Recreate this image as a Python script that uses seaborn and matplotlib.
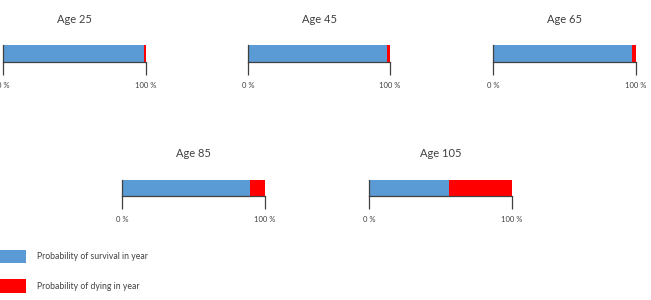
import numpy as np
import pandas as pd
import matplotlib
matplotlib.use("Agg")
import matplotlib.pyplot as plt
from matplotlib.patches import Patch
import seaborn as sns

# values (percent)
ages = [25, 45, 65, 85, 105]
survival = [98.5, 98.0, 97.0, 89.5, 56.0]
dying = [1.5, 2.0, 3.0, 10.5, 44.0]
tick_labels = ["0 %", "100 %"]
legend_labels = ["Probability of survival in year", "Probability of dying in year"]

blue = "#5B9BD5"
red = "#FF0000"
grey = "#404040"

sns.set_style("white")
plt.rcParams['font.family'] = ['Lato', 'DejaVu Sans']

W, H = 651, 300
fig = plt.figure(figsize=(W / 100, H / 100), dpi=100)

# panel boxes in pixels: (left, right, top, bottom)
boxes = [(3, 146, 45, 61.5), (248, 390, 45, 61.5), (493, 636, 45, 61.5),
         (122, 265, 179.5, 196), (369, 512, 179.5, 196)]

for age, surv, die, (x0, x1, y0, y1) in zip(ages, survival, dying, boxes):
    ax = fig.add_axes([x0 / W, 1 - y1 / H, (x1 - x0) / W, (y1 - y0) / H])
    df = pd.DataFrame({'age': [f"Age {age}"], 'total': [surv + die], 'surv': [surv]})
    sns.barplot(data=df, x='total', y='age', orient='h', color=red, width=1,
                saturation=1, ax=ax, linewidth=0)
    sns.barplot(data=df, x='surv', y='age', orient='h', color=blue, width=1,
                saturation=1, ax=ax, linewidth=0)
    ax.set_xlim(0, 100)
    ax.set_ylim(0.5, -0.5)
    ax.set_xticks([0, 100])
    ax.set_xticklabels(tick_labels, fontsize=5.5, color=grey)
    ax.tick_params(axis='x', direction='out', length=9.5, width=0.9,
                   color=grey, pad=5, bottom=True)
    ax.set_yticks([])
    ax.set_xlabel(None)
    ax.set_ylabel(None)
    for side in ['top', 'right']:
        ax.spines[side].set_visible(False)
    for side in ['bottom', 'left']:
        ax.spines[side].set_color(grey)
        ax.spines[side].set_linewidth(0.9)
    ax.set_title(f"Age {age}", fontsize=8, color=grey, pad=16)

handles = [Patch(facecolor=blue, edgecolor='none'), Patch(facecolor=red, edgecolor='none')]
fig.legend(handles, legend_labels, loc='upper left', bbox_to_anchor=(0, 1 - 250 / H),
           frameon=False, fontsize=6.2, handlelength=2.99, handleheight=2.02,
           handletextpad=1.29, labelspacing=1.84, borderpad=0, borderaxespad=0,
           labelcolor=grey)

fig.savefig("out.png", dpi=100)
